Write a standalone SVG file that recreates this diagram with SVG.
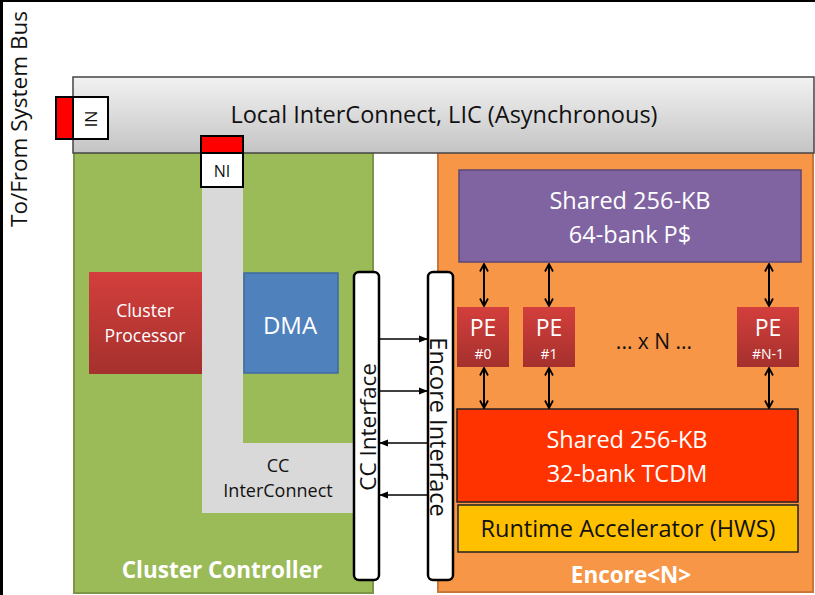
<svg xmlns="http://www.w3.org/2000/svg" width="815" height="595" viewBox="0 0 815 595">
<defs>
<linearGradient id="gLic" x1="0" y1="0" x2="0" y2="1"><stop offset="0" stop-color="#f2f2f2"/><stop offset="1" stop-color="#c4c4c4"/></linearGradient>
<linearGradient id="gRed" x1="0" y1="0" x2="0" y2="1"><stop offset="0" stop-color="#d33f3c"/><stop offset="1" stop-color="#a5302d"/></linearGradient>
<marker id="vh" viewBox="0 0 10 10" refX="9" refY="5" markerWidth="10" markerHeight="10" markerUnits="userSpaceOnUse" orient="auto-start-reverse"><polyline points="1.5,1 9,5 1.5,9" fill="none" stroke="#000" stroke-width="1.8"/></marker>
<marker id="th" viewBox="0 0 10 10" refX="9" refY="5" markerWidth="9" markerHeight="9" markerUnits="userSpaceOnUse" orient="auto"><path d="M0,1 L10,5 L0,9 Z" fill="#000"/></marker>
</defs>
<style>
text{font-family:"Open Sans","Liberation Sans",sans-serif}
.w{fill:#fff}
.k{fill:#111}
.m{text-anchor:middle}
.b{font-weight:bold}
.va{stroke:#000;stroke-width:2;fill:none;marker-start:url(#vh);marker-end:url(#vh)}
.ha{stroke:#000;stroke-width:1.5;fill:none;marker-end:url(#th)}
.iface{fill:#fff;stroke:#000;stroke-width:2.5}
</style>
<rect x="0" y="0" width="815" height="595" fill="#fff"/>
<rect x="0" y="0" width="815" height="2" fill="#000"/>
<rect x="0" y="0" width="3" height="595" fill="#000"/>

<g id="system-bus-label">
<text class="k m" font-size="22.5" transform="translate(27,119) rotate(-90)">To/From System Bus</text>
</g>

<g id="cluster-controller">
<rect x="74" y="150" width="299" height="443" fill="#9bbb59" stroke="#7a9646" stroke-width="2"/>
<text class="w m b" x="222" y="578" font-size="22.5">Cluster Controller</text>
</g>

<g id="encore">
<rect x="438" y="150" width="375" height="442" fill="#f79646" stroke="#c8763a" stroke-width="2"/>
<text class="w m b" x="631" y="583" font-size="22.5">Encore&lt;N&gt;</text>
</g>

<g id="cc-interconnect">
<path d="M202,187 H243 V443 H353 V513 H202 Z" fill="#d9d9d9"/>
<text class="k m" x="278" y="472" font-size="18">CC</text>
<text class="k m" x="278" y="497" font-size="18">InterConnect</text>
</g>

<g id="lic">
<rect x="73" y="77" width="741" height="76" fill="url(#gLic)" stroke="#444" stroke-width="1.5"/>
<text class="k m" x="444" y="123" font-size="23.5">Local InterConnect, LIC (Asynchronous)</text>
</g>

<g id="ni-left">
<rect x="56" y="97" width="17" height="42" fill="#ff0000" stroke="#000" stroke-width="2"/>
<rect x="73" y="97" width="35" height="42" fill="#fff" stroke="#000" stroke-width="2"/>
<text class="k m" font-size="16" transform="translate(85,119) rotate(90)">NI</text>
</g>

<g id="ni-top">
<rect x="201" y="136" width="42" height="17" fill="#ff0000" stroke="#000" stroke-width="2"/>
<rect x="201" y="153" width="42" height="34" fill="#fff" stroke="#000" stroke-width="2"/>
<text class="k m" x="222" y="177" font-size="16">NI</text>
</g>

<g id="cluster-processor">
<rect x="89" y="272" width="113" height="102" fill="url(#gRed)"/>
<text class="w m" x="145" y="317" font-size="17.5">Cluster</text>
<text class="w m" x="145" y="342" font-size="17.5">Processor</text>
</g>

<g id="dma">
<rect x="244" y="273" width="94" height="100" fill="#4f81bd" stroke="#3d6aa3" stroke-width="1.5"/>
<text class="w m" x="290" y="334" font-size="24">DMA</text>
</g>

<g id="cc-interface">
<rect class="iface" x="354" y="272" width="25" height="308" rx="5"/>
<text class="k m" font-size="22.5" transform="translate(376,427) rotate(-90)">CC Interface</text>
</g>

<g id="encore-interface">
<rect class="iface" x="428" y="272" width="25" height="308" rx="5"/>
<text class="k m" font-size="23.5" transform="translate(430,427) rotate(90)">Encore Interface</text>
</g>

<g id="shared-pcache">
<rect x="459" y="170" width="342" height="92" fill="#8064a2" stroke="#5c4776" stroke-width="1.5"/>
<text class="w m" x="630" y="209" font-size="23.5">Shared 256-KB</text>
<text class="w m" x="630" y="243" font-size="23.5">64-bank P$</text>
</g>

<g id="pe0">
<rect x="457" y="307" width="52" height="60" fill="url(#gRed)"/>
<text class="w m" x="483" y="336" font-size="23">PE</text>
<text class="w m" x="483" y="359" font-size="14">#0</text>
</g>
<g id="pe1">
<rect x="523" y="307" width="52" height="60" fill="url(#gRed)"/>
<text class="w m" x="549" y="336" font-size="23">PE</text>
<text class="w m" x="549" y="359" font-size="14">#1</text>
</g>
<g id="pe-n1">
<rect x="737" y="307" width="62" height="60" fill="url(#gRed)"/>
<text class="w m" x="768" y="336" font-size="23">PE</text>
<text class="w m" x="768" y="359" font-size="14">#N-1</text>
</g>
<g id="xn">
<text class="k m" x="654" y="349" font-size="21">... x N ...</text>
</g>

<g id="tcdm">
<rect x="457" y="409" width="341" height="93" fill="#ff3300" stroke="#222" stroke-width="1.5"/>
<text class="w m" x="627" y="448" font-size="23.5">Shared 256-KB</text>
<text class="w m" x="627" y="482" font-size="23.5">32-bank TCDM</text>
</g>

<g id="runtime-accelerator">
<rect x="458" y="505" width="340" height="47" fill="#ffc000" stroke="#222" stroke-width="1.5"/>
<text class="k m" x="628" y="537" font-size="23.5">Runtime Accelerator (HWS)</text>
</g>

<g id="connectors">
<line class="va" x1="484" y1="264" x2="484" y2="306"/>
<line class="va" x1="549" y1="264" x2="549" y2="306"/>
<line class="va" x1="769" y1="264" x2="769" y2="306"/>
<line class="va" x1="484" y1="368" x2="484" y2="408"/>
<line class="va" x1="549" y1="368" x2="549" y2="408"/>
<line class="va" x1="769" y1="368" x2="769" y2="408"/>
<line class="ha" x1="380" y1="339" x2="427" y2="339"/>
<line class="ha" x1="380" y1="391" x2="427" y2="391"/>
<line class="ha" x1="427" y1="443" x2="380" y2="443"/>
<line class="ha" x1="427" y1="495" x2="380" y2="495"/>
</g>
</svg>
